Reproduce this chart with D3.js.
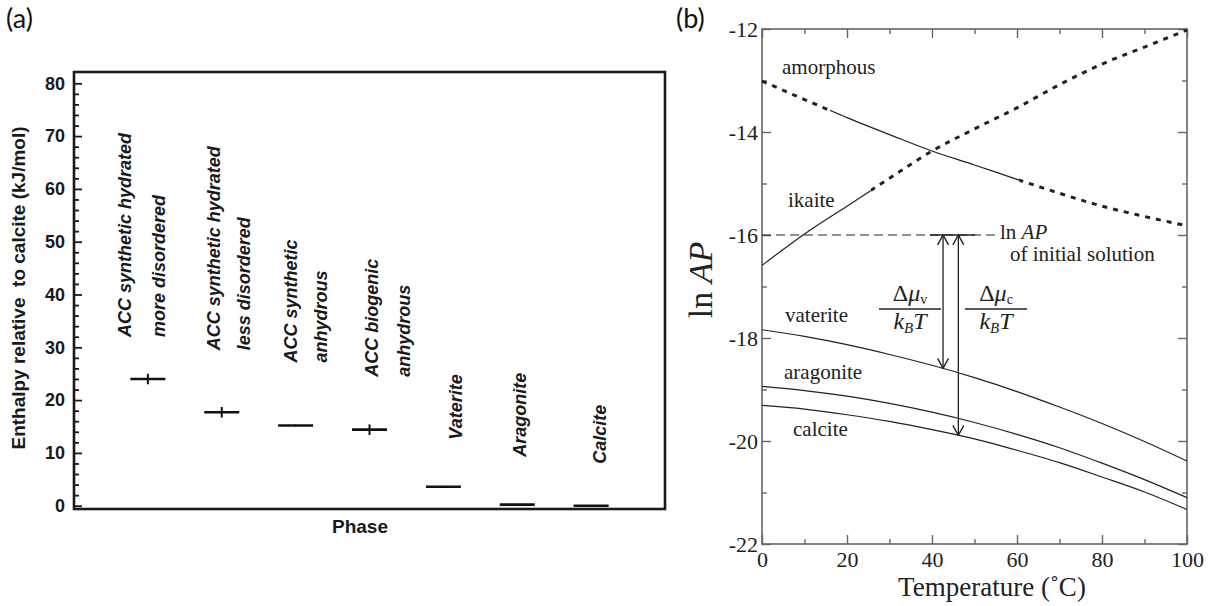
<!DOCTYPE html>
<html>
<head>
<meta charset="utf-8">
<script src="https://cdn.jsdelivr.net/npm/d3@7"></script>
<style>
body { margin: 0; background: #fff; }
svg { display: block; }
.sans { font-family: "Liberation Sans", Arial, sans-serif; }
.serif, .serif text { font-family: "Liberation Serif", "Times New Roman", serif; }
</style>
</head>
<body>
<svg id="chart" width="1215" height="606"></svg>
<script>
// ---------- panel (a) data ----------
const phaseLabels = [
    ["ACC synthetic hydrated", "more disordered"],
    ["ACC synthetic hydrated", "less disordered"],
    ["ACC synthetic", "anhydrous"],
    ["ACC biogenic", "anhydrous"],
    ["Vaterite"],
    ["Aragonite"],
    ["Calcite"]
]
const phases = phaseLabels.map(d => d.join(" "))
const enthalpy = [24.0, 17.7, 15.2, 14.4, 3.6, 0.2, 0.0]
const enthalpyErr = [1.0, 1.0, 0.15, 1.0, 0.15, 0, 0]
const yTicksA = [0, 10, 20, 30, 40, 50, 60, 70, 80]

// ---------- panel (b) data ----------
const tempC = [0, 10, 20, 30, 40, 50, 60, 70, 80, 90, 100]
const amorphous = [-13.01, -13.37, -13.72, -14.05, -14.37, -14.64, -14.92, -15.19, -15.44, -15.64, -15.82]
const ikaite = [-16.59, -15.98, -15.44, -14.90, -14.37, -13.94, -13.53, -13.08, -12.68, -12.35, -12.02]
const vaterite = [-17.84, -17.97, -18.13, -18.32, -18.53, -18.77, -19.04, -19.34, -19.66, -20.01, -20.39]
const aragonite = [-18.94, -19.02, -19.13, -19.27, -19.44, -19.64, -19.87, -20.13, -20.43, -20.75, -21.10]
const calcite = [-19.31, -19.38, -19.49, -19.62, -19.78, -19.96, -20.18, -20.42, -20.70, -20.99, -21.33]
const amorphousSolid = [16, 60.5]   // temperature range drawn solid, rest dotted
const ikaiteSolid = [0, 25.5]
const lnAPInitial = -16
const lnAPDashEnd = 54.8
const lnAPSolid = [39.5, 50.1]
const arrowT = [42.6, 46.2]
const arrowTo = [-18.59, -19.89]
const xTicksB = [0, 20, 40, 60, 80, 100]
const xMinorB = [10, 30, 50, 70, 90]
const yTicksB = [-22, -20, -18, -16, -14, -12]
const yMinorB = [-21, -19, -17, -15, -13]

let svg = d3.select("#chart")
svg.append("rect").attr("width", 1215).attr("height", 606).attr("fill", "#fff")

// panel letters
svg.append("text").attr("x", 6).attr("y", 28).text("(a)")
    .style("font-family", "Lato, 'Open Sans', sans-serif").style("font-size", "27px").attr("fill", "#111")
svg.append("text").attr("x", 676).attr("y", 28).text("(b)")
    .style("font-family", "Lato, 'Open Sans', sans-serif").style("font-size", "27px").attr("fill", "#111")

// =================== panel (a) ===================
let frameA = { left: 74, top: 72, right: 665, bottom: 509 }
let xA = d3.scalePoint().domain(phases).range([frameA.left, frameA.right]).padding(1)
let yA = d3.scaleLinear().domain([0, 80]).range([505.7, 83.3])

let gA = svg.append("g").attr("class", "sans")

//minor ticks
let minorA = d3.range(0, 81, 2).filter(d => d % 10 !== 0)
let axMinorA = d3.axisLeft(yA).tickValues(minorA).tickSize(-5).tickFormat("")
gA.append("g").attr("transform", "translate(" + frameA.left + ",0)").call(axMinorA)
//major ticks
let axA = d3.axisLeft(yA).tickValues(yTicksA).tickSize(-8).tickPadding(9)
gA.append("g").attr("class", "ya").attr("transform", "translate(" + frameA.left + ",0)").call(axA)
gA.selectAll(".domain").remove()
gA.selectAll(".tick line").attr("stroke", "#1a1a1a").attr("stroke-width", 1.8)
gA.selectAll(".ya text")
    .attr("font-family", "Liberation Sans, Arial, sans-serif")
    .style("font-size", "18px").style("font-weight", "bold").attr("fill", "#1a1a1a")

//frame
gA.append("rect")
    .attr("x", frameA.left).attr("y", frameA.top)
    .attr("width", frameA.right - frameA.left).attr("height", frameA.bottom - frameA.top)
    .attr("fill", "none").attr("stroke", "#1a1a1a").attr("stroke-width", 2.6)

//axis titles
gA.append("text")
    .attr("transform", "translate(25,288) rotate(-90)")
    .attr("text-anchor", "middle")
    .style("font-size", "19px").style("font-weight", "bold").style("white-space", "pre")
    .attr("fill", "#1a1a1a")
    .text("Enthalpy relative  to calcite (kJ/mol)")
gA.append("text")
    .attr("x", 360).attr("y", 533).attr("text-anchor", "middle")
    .style("font-size", "19px").style("font-weight", "bold").attr("fill", "#1a1a1a")
    .text("Phase")

//markers: horizontal bar + error bar
let halfW = 17.5
let pts = gA.selectAll(".pt").data(phases).join("g").attr("class", "pt")
pts.append("line")
    .attr("x1", d => xA(d) - halfW).attr("x2", d => xA(d) + halfW)
    .attr("y1", (d, i) => yA(enthalpy[i])).attr("y2", (d, i) => yA(enthalpy[i]))
    .attr("stroke", "#111").attr("stroke-width", 2.6)
pts.append("line")
    .attr("x1", d => xA(d)).attr("x2", d => xA(d))
    .attr("y1", (d, i) => yA(enthalpy[i] - enthalpyErr[i])).attr("y2", (d, i) => yA(enthalpy[i] + enthalpyErr[i]))
    .attr("stroke", "#111").attr("stroke-width", 2)

//rotated phase labels (layout offsets from the marker)
let labelDx = [[-17, 17], [-2, 28], [1, 31], [8, 40], [19], [9], [15]]
let labelGap = [42, 62, 63, 53, 47, 48, 42]
phases.forEach(function(p, i) {
    phaseLabels[i].forEach(function(line, j) {
        gA.append("text")
            .attr("transform", "translate(" + (xA(p) + labelDx[i][j]) + "," + (yA(enthalpy[i]) - labelGap[i]) + ") rotate(-90)")
            .style("font-size", "18px").style("font-weight", "bold").style("font-style", "italic")
            .attr("fill", "#1a1a1a")
            .text(line)
    })
})

// =================== panel (b) ===================
let frameB = { left: 762, top: 29, right: 1187, bottom: 544 }
let xB = d3.scaleLinear().domain([0, 100]).range([frameB.left, frameB.right])
let yB = d3.scaleLinear().domain([-22, -12]).range([frameB.bottom, frameB.top])
let gB = svg.append("g").attr("class", "serif")
let frameCol = "#666"
let serifFont = "Liberation Serif, Times New Roman, serif"

function ticks(axis, tx, ty, values, size, labels) {
    let a = axis.tickValues(values).tickSize(-size)
    if (!labels) a.tickFormat("")
    let g = gB.append("g").attr("transform", "translate(" + tx + "," + ty + ")").call(a)
    g.attr("font-family", serifFont).attr("font-size", 22)
    g.select(".domain").remove()
    g.selectAll(".tick line").attr("stroke", frameCol).attr("stroke-width", 1.4)
    g.selectAll(".tick text").attr("font-family", serifFont).attr("fill", "#222")
    return g
}
ticks(d3.axisBottom(xB).tickPadding(7).tickFormat(d => String(d)), 0, frameB.bottom, xTicksB, 9, true)
ticks(d3.axisBottom(xB), 0, frameB.bottom, xMinorB, 5, false)
ticks(d3.axisTop(xB), 0, frameB.top, xTicksB, 9, false)
ticks(d3.axisTop(xB), 0, frameB.top, xMinorB, 5, false)
ticks(d3.axisLeft(yB).tickPadding(4).tickFormat(d => String(d)), frameB.left, 0, yTicksB, 9, true)
ticks(d3.axisLeft(yB), frameB.left, 0, yMinorB, 5, false)
ticks(d3.axisRight(yB), frameB.right, 0, yTicksB, 9, false)
ticks(d3.axisRight(yB), frameB.right, 0, yMinorB, 5, false)

gB.append("rect")
    .attr("x", frameB.left).attr("y", frameB.top)
    .attr("width", frameB.right - frameB.left).attr("height", frameB.bottom - frameB.top)
    .attr("fill", "none").attr("stroke", frameCol).attr("stroke-width", 1.6)

//clip paths for solid / dotted parts
let defs = svg.append("defs")
function clipRange(id, ranges) {
    let c = defs.append("clipPath").attr("id", id)
    ranges.forEach(r => c.append("rect").attr("x", xB(r[0])).attr("y", 0).attr("width", xB(r[1]) - xB(r[0])).attr("height", 606))
}
clipRange("amSolid", [amorphousSolid])
clipRange("amDot", [[-20, amorphousSolid[0]], [amorphousSolid[1], 120]])
clipRange("ikSolid", [[-20, ikaiteSolid[1]]])
clipRange("ikDot", [[ikaiteSolid[1], 120]])

let line = d3.line().x((d, i) => xB(tempC[i])).y(d => yB(d)).curve(d3.curveMonotoneX)
let lineCol = "#222"
function curve(values, clip, dotted) {
    let p = gB.append("path").attr("d", line(values)).attr("fill", "none").attr("stroke", lineCol)
    if (clip) p.attr("clip-path", "url(#" + clip + ")")
    if (dotted) p.attr("stroke-width", 3).attr("stroke-dasharray", "5,6")
    else p.attr("stroke-width", 1.2)
}
curve(amorphous, "amSolid", false)
curve(amorphous, "amDot", true)
curve(ikaite, "ikSolid", false)
curve(ikaite, "ikDot", true)
curve(vaterite, null, false)
curve(aragonite, null, false)
curve(calcite, null, false)

//initial solution line
gB.append("line")
    .attr("x1", xB(0)).attr("x2", xB(lnAPDashEnd))
    .attr("y1", yB(lnAPInitial)).attr("y2", yB(lnAPInitial))
    .attr("stroke", lineCol).attr("stroke-width", 1.2).attr("stroke-dasharray", "9,5")
gB.append("line")
    .attr("x1", xB(lnAPSolid[0])).attr("x2", xB(lnAPSolid[1]))
    .attr("y1", yB(lnAPInitial)).attr("y2", yB(lnAPInitial))
    .attr("stroke", lineCol).attr("stroke-width", 1.3)

//double arrows
defs.append("marker").attr("id", "vhead")
    .attr("viewBox", "0 -6 11 12").attr("refX", 10).attr("refY", 0)
    .attr("markerWidth", 11).attr("markerHeight", 12).attr("markerUnits", "userSpaceOnUse")
    .attr("orient", "auto-start-reverse")
    .append("path").attr("d", "M0,-5.5L10,0L0,5.5").attr("fill", "none").attr("stroke", lineCol).attr("stroke-width", 1.4)
arrowT.forEach(function(t, i) {
    gB.append("line")
        .attr("x1", xB(t)).attr("x2", xB(t))
        .attr("y1", yB(lnAPInitial)).attr("y2", yB(arrowTo[i]))
        .attr("stroke", lineCol).attr("stroke-width", 1.3)
        .attr("marker-start", "url(#vhead)").attr("marker-end", "url(#vhead)")
})

//curve labels
function label(x, y, txt) {
    return gB.append("text").attr("x", x).attr("y", y).style("font-size", "21px").attr("fill", "#222").text(txt)
}
label(782, 74, "amorphous")
label(788, 207, "ikaite")
label(785, 322, "vaterite")
label(784, 379, "aragonite")
label(793, 436, "calcite")
let lnLab = gB.append("text").attr("x", 1000).attr("y", 239).style("font-size", "21px").attr("fill", "#222")
lnLab.append("tspan").text("ln ")
lnLab.append("tspan").style("font-style", "italic").text("AP")
label(1010, 261, "of initial solution")

//fractions
function fraction(cx, x0, x1, sub) {
    let num = gB.append("text").attr("x", cx).attr("y", 301).attr("text-anchor", "middle")
        .style("font-size", "24px").attr("fill", "#222")
    num.append("tspan").text("\u0394")
    num.append("tspan").style("font-style", "italic").text("\u03bc")
    num.append("tspan").style("font-size", "14px").attr("dy", 3).text(sub)
    gB.append("line").attr("x1", x0).attr("x2", x1).attr("y1", 309).attr("y2", 309)
        .attr("stroke", "#222").attr("stroke-width", 1.3)
    let den = gB.append("text").attr("x", cx).attr("y", 329).attr("text-anchor", "middle")
        .style("font-size", "24px").style("font-style", "italic").attr("fill", "#222")
    den.append("tspan").text("k")
    den.append("tspan").style("font-size", "15px").attr("dy", 4).text("B")
    den.append("tspan").attr("dy", -4).text("T")
}
fraction(910, 879, 941, "v")
fraction(996, 965, 1027, "c")

//axis titles
gB.append("text")
    .attr("x", 992).attr("y", 596).attr("text-anchor", "middle")
    .style("font-size", "27px").attr("fill", "#222")
    .text("Temperature (\u02daC)")
let yt = gB.append("text")
    .attr("transform", "translate(712,280) rotate(-90)").attr("text-anchor", "middle")
    .style("font-size", "34px").attr("fill", "#222")
yt.append("tspan").text("ln ")
yt.append("tspan").style("font-style", "italic").text("AP")
</script>
</body>
</html>
